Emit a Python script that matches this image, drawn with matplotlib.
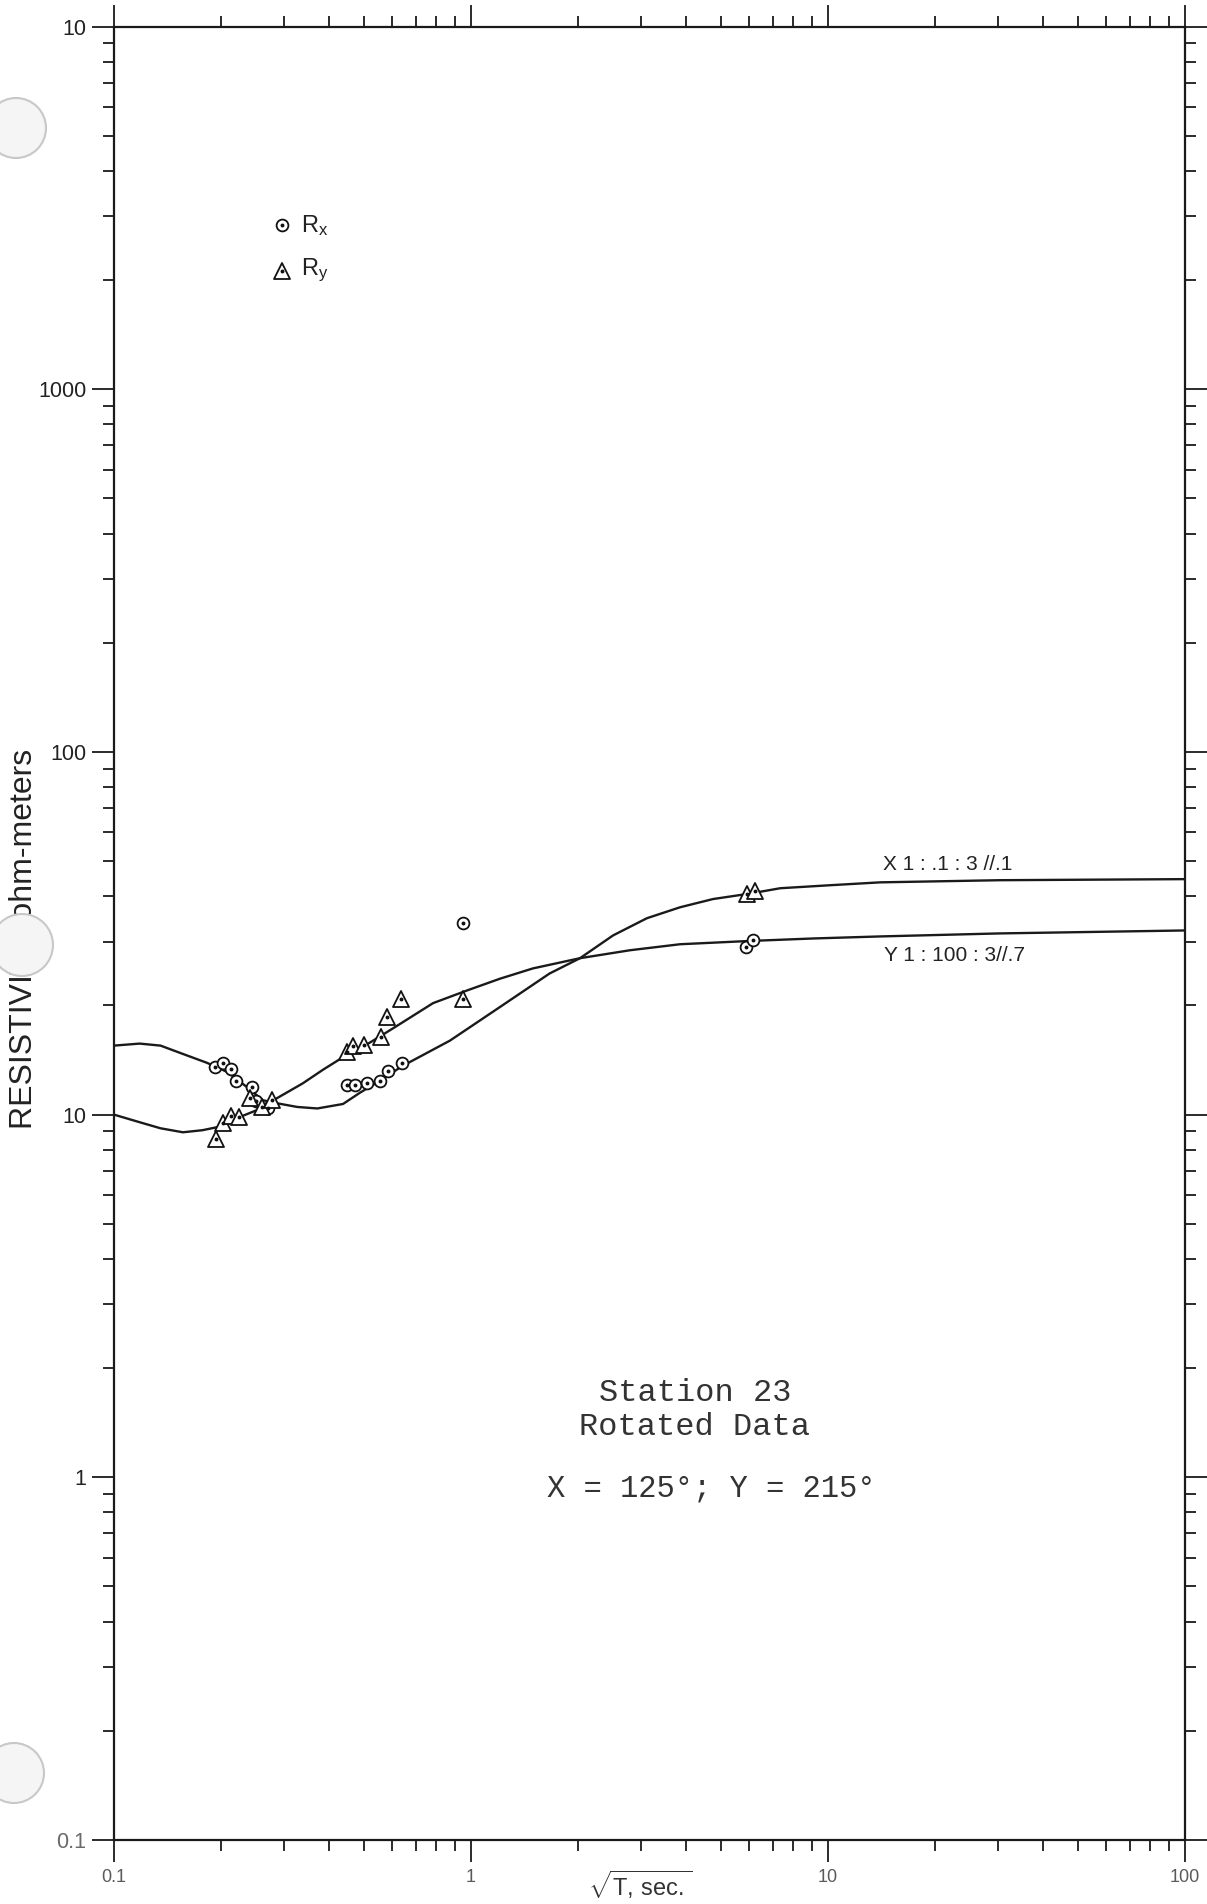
import matplotlib
matplotlib.use("Agg")
import matplotlib.pyplot as plt
from matplotlib.markers import MarkerStyle
from matplotlib.patches import Ellipse

plt.rcParams["font.family"] = ["Liberation Sans", "DejaVu Sans"]
plt.rcParams["mathtext.fontset"] = "custom"
plt.rcParams["mathtext.rm"] = "Liberation Sans"
plt.rcParams["mathtext.it"] = "Liberation Sans"

# ---- measured apparent resistivities (sqrt(T) in s^0.5, ohm-m) ----
rx_period = [0.192, 0.202, 0.213, 0.220, 0.244, 0.250, 0.270,
             0.450, 0.473, 0.512, 0.556, 0.585, 0.641, 0.950, 5.89, 6.16]
rx_rho = [13.5, 13.9, 13.4, 12.4, 11.9, 10.9, 10.4,
          12.1, 12.1, 12.2, 12.4, 13.2, 13.9, 33.7, 28.9, 30.3]

ry_period = [0.193, 0.202, 0.213, 0.224, 0.240, 0.260, 0.277,
             0.450, 0.467, 0.501, 0.560, 0.582, 0.637, 0.950, 5.93, 6.25]
ry_rho = [8.55, 9.46, 9.90, 9.84, 11.1, 10.5, 11.0,
          14.9, 15.5, 15.6, 16.4, 18.6, 20.8, 20.8, 40.7, 41.3]

# ---- layered-model responses ----
model_x_period = [0.100, 0.118, 0.135, 0.156, 0.182, 0.208, 0.236, 0.261, 0.286,
                  0.326, 0.371, 0.438, 0.489, 0.556, 0.641, 0.873, 1.205, 1.66,
                  2.02, 2.50, 3.11, 3.85, 4.76, 6.05, 7.35, 10.1, 14.0, 30.3, 100.0]
model_x_rho = [15.5, 15.7, 15.5, 14.7, 13.9, 13.1, 11.9, 10.96, 10.75,
               10.5, 10.4, 10.7, 11.5, 12.4, 13.6, 16.0, 19.8, 24.5,
               27.0, 31.2, 34.8, 37.3, 39.3, 40.7, 42.1, 42.9, 43.7, 44.3, 44.6]

model_y_period = [0.100, 0.118, 0.135, 0.156, 0.177, 0.194, 0.221, 0.252, 0.286,
                  0.338, 0.385, 0.438, 0.521, 0.605, 0.783, 0.975, 1.205, 1.49,
                  2.02, 2.79, 3.85, 5.93, 9.08, 14.0, 30.3, 100.0]
model_y_rho = [10.0, 9.53, 9.17, 8.94, 9.06, 9.23, 9.78, 10.3, 11.1,
               12.2, 13.3, 14.4, 15.8, 17.3, 20.3, 22.0, 23.7, 25.3,
               27.0, 28.4, 29.5, 30.1, 30.6, 31.0, 31.6, 32.2]

x_ticks = [0.1, 1, 10, 100]
x_tick_labels = ["0.1", "1", "10", "100"]
y_ticks = [0.1, 1, 10, 100, 1000, 10000]
y_tick_labels = ["0.1", "1", "10", "100", "1000", "10"]

curve_label_x = "X 1 : .1 : 3 //.1"
curve_label_y = "Y 1 : 100 : 3//.7"
station_lines = ["Station 23", "Rotated Data"]
angle_line = "X = 125°; Y = 215°"

W, H = 1207, 1904
fig = plt.figure(figsize=(W / 100, H / 100), dpi=100)
fig.patch.set_facecolor("white")
ax = fig.add_axes([114 / W, 64 / H, 1071 / W, 1813.4 / H])
ax.set_xscale("log")
ax.set_yscale("log")
ax.set_xlim(0.1, 100)
ax.set_ylim(0.1, 10000)

# model curves
ax.plot(model_x_period, model_x_rho, color="#1a1a1a", lw=1.7, zorder=2)
ax.plot(model_y_period, model_y_rho, color="#1a1a1a", lw=1.7, zorder=2)

# data symbols: open circle / rounded triangle with a centre dot
circ = MarkerStyle("o")
tri = MarkerStyle("^", joinstyle="round")
ax.plot(rx_period, rx_rho, ls="none", marker=circ, ms=8.5, mfc="white",
        mec="#111111", mew=1.3, zorder=3)
ax.plot(ry_period, ry_rho, ls="none", marker=tri, ms=11, mfc="white",
        mec="#111111", mew=1.3, zorder=3)
ax.plot(rx_period + ry_period, rx_rho + ry_rho, ls="none", marker="o",
        ms=1.8, color="#111111", zorder=4)

# axes frame and ticks
for s in ax.spines.values():
    s.set_linewidth(1.6)
    s.set_color("#1a1a1a")
ax.tick_params(which="both", direction="out", top=True, right=True,
               color="#1a1a1a", width=1.3)
ax.tick_params(which="major", length=16)
ax.tick_params(which="minor", length=8)
ax.set_xticks(x_ticks)
ax.set_xticklabels(x_tick_labels)
ax.set_yticks(y_ticks)
ax.set_yticklabels(y_tick_labels)
ax.tick_params(axis="x", which="major", labelsize=13, labelcolor="#5a5a5a", pad=5)
ax.tick_params(axis="y", which="major", labelsize=15.5, labelcolor="#222222", pad=4)
ax.get_yticklabels()[0].set_color("#6a6a6a")

# axis titles
fig.text(640 / W, 1 - 1896 / H, r"$\sqrt{\mathrm{T,\,sec.}}$", fontsize=17,
         color="#333333", ha="center", va="baseline")
ax.set_ylabel("RESISTIVITY, ohm-meters", fontsize=23, color="#222222")
ax.yaxis.set_label_coords(-0.070, 0.497)

# legend
ax.plot([0.157], [0.8905], transform=ax.transAxes, ls="none", marker=circ,
        ms=8.5, mfc="white", mec="#111111", mew=1.3, clip_on=False)
ax.plot([0.157], [0.8655], transform=ax.transAxes, ls="none", marker=tri,
        ms=11, mfc="white", mec="#111111", mew=1.3, clip_on=False)
ax.plot([0.157, 0.157], [0.8905, 0.8655], transform=ax.transAxes, ls="none",
        marker="o", ms=1.8, color="#111111")
ax.text(0.175, 0.8905, r"R$_\mathrm{x}$", transform=ax.transAxes, fontsize=17,
        va="center", ha="left", color="#222222")
ax.text(0.175, 0.8655, r"R$_\mathrm{y}$", transform=ax.transAxes, fontsize=17,
        va="center", ha="left", color="#222222")

# curve annotations
ax.text(0.778, 0.5377, curve_label_x, transform=ax.transAxes, fontsize=15,
        ha="center", va="center", color="#222222")
ax.text(0.785, 0.4875, curve_label_y, transform=ax.transAxes, fontsize=15,
        ha="center", va="center", color="#222222")

# station caption
mono = ["Liberation Mono", "DejaVu Sans Mono"]
ax.text(0.5425, 0.2464, station_lines[0], transform=ax.transAxes, fontsize=23,
        family=mono, ha="center", va="center", color="#333333")
ax.text(0.5416, 0.2277, station_lines[1], transform=ax.transAxes, fontsize=23,
        family=mono, ha="center", va="center", color="#333333")
ax.text(0.5580, 0.1941, angle_line, transform=ax.transAxes, fontsize=22,
        family=mono, ha="center", va="center", color="#333333")

# binder holes along the left margin
for cx, cy, r in [(16, 128, 30), (22, 945, 31), (14, 1773, 30)]:
    hole = Ellipse((cx / W, 1 - cy / H), 2 * r / W, 2 * r / H,
                   transform=fig.transFigure, facecolor="#f5f5f5",
                   edgecolor="#c8c8c8", lw=1.5, zorder=10)
    fig.add_artist(hole)

fig.savefig("out.png", dpi=100, facecolor="white")
